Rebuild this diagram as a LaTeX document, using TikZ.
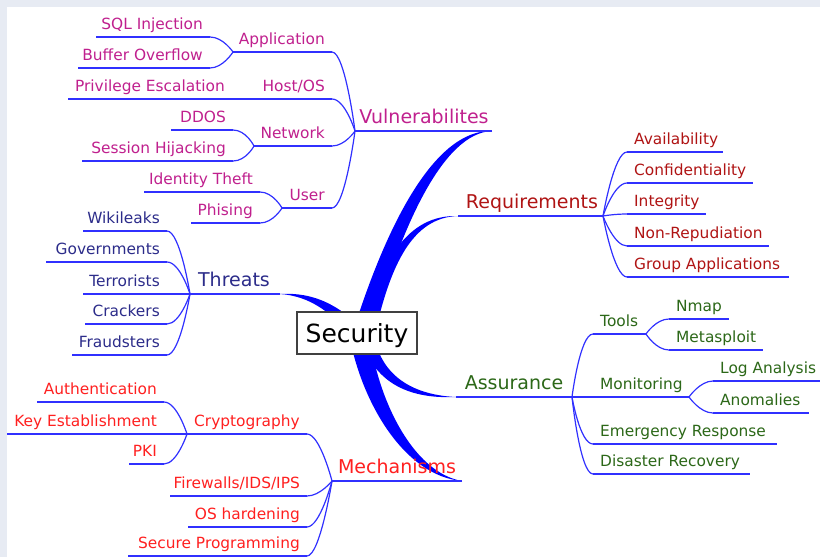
\documentclass[tikz,border=0pt]{standalone}
\usepackage{fontspec}
\setmainfont{DejaVu Sans}
\usetikzlibrary{calc}

\definecolor{vulcol}{RGB}{192,32,142}
\definecolor{thrcol}{RGB}{44,44,138}
\definecolor{reqcol}{RGB}{176,20,20}
\definecolor{asscol}{RGB}{44,104,24}
\definecolor{mechcol}{RGB}{255,32,32}
\definecolor{linecol}{RGB}{48,48,255}
\definecolor{bandcol}{RGB}{0,0,255}
\definecolor{framecol}{RGB}{231,235,243}

\pgfdeclarelayer{bg}
\pgfsetlayers{bg,main}

\tikzset{
  edge/.style={draw=linecol, line width=1.2pt},
  band/.style={fill=bandcol},
  leaf/.style={inner sep=0pt, font=\fontsize{15.4}{18}\selectfont},
  topic/.style={inner sep=0pt, font=\fontsize{19}{22}\selectfont},
  hubbox/.style={draw=black!75, line width=1.2pt, fill=white, inner sep=0pt,
    minimum width=120pt, minimum height=42pt, text height=18.5pt, text depth=0pt,
    font=\fontsize{25}{30}\selectfont},
}

% item left of its parent: underline from l to r at height y, text flush right
\newcommand\lefttopic[6]{%
  \coordinate (#1-l) at (#4,#6);
  \coordinate (#1-r) at (#5,#6);
  \node[leaf, text=#3, anchor=base east] (#1) at (#5-7,#6-7.5) {#2};
  \draw[edge] (#1-l) -- (#1-r);}
% item right of its parent: text flush left
\newcommand\righttopic[6]{%
  \coordinate (#1-l) at (#4,#6);
  \coordinate (#1-r) at (#5,#6);
  \node[leaf, text=#3, anchor=base west] (#1) at (#4+7,#6-7.5) {#2};
  \draw[edge] (#1-l) -- (#1-r);}
% main branch: underline from l to r, text centred at x
\newcommand\maintopic[7]{%
  \coordinate (#1-l) at (#4,#6);
  \coordinate (#1-r) at (#5,#6);
  \node[topic, text=#3, anchor=base] (#1) at (#7,#6-7.5) {#2};
  \draw[edge] (#1-l) -- (#1-r);}
% connectors: child on the left of its parent / parent on the left of its child
\newcommand\joinleft[2]{\draw[edge] (#1-r) .. controls +(13,0) and +(0,0) .. (#2-l);}
\newcommand\joinright[2]{\draw[edge] (#1-r) .. controls +(0,0) and +(-13,0) .. (#2-l);}
% tapered band along a cubic curve, widths given at the first three points
\newcommand\branchband[7]{%
  \fill[band] ($(#1)!#5!90:(#2)$) .. controls ($(#2)!#6!90:(#3)$) and ($(#3)!#7!-90:(#2)$) .. (#4)
    .. controls ($(#3)!#7!90:(#2)$) and ($(#2)!#6!-90:(#3)$) .. ($(#1)!#5!-90:(#2)$) -- cycle;}

\begin{document}
\begin{tikzpicture}[x=1pt,y=-1pt]
\useasboundingbox (0,0) rectangle (820,557);

% ---- main branches
\maintopic{vul}{Vulnerabilites}{vulcol}{355}{492}{131}{424}
\maintopic{thr}{Threats}{thrcol}{190}{280}{294}{234}
\maintopic{mech}{Mechanisms}{mechcol}{332}{462}{481}{397}
\maintopic{req}{Requirements}{reqcol}{458}{603}{216}{532}
\maintopic{ass}{Assurance}{asscol}{456}{572}{397}{514}

% ---- vulnerabilities
\lefttopic{app}{Application}{vulcol}{233}{332}{52}
\lefttopic{sql}{SQL Injection}{vulcol}{96}{210}{37}
\lefttopic{buf}{Buffer Overflow}{vulcol}{78}{210}{68}
\lefttopic{host}{Host/OS}{vulcol}{254}{332}{99}
\lefttopic{priv}{Privilege Escalation}{vulcol}{68}{232}{99}
\lefttopic{net}{Network}{vulcol}{254}{332}{146}
\lefttopic{ddos}{DDOS}{vulcol}{171}{233}{130}
\lefttopic{sess}{Session Hijacking}{vulcol}{82}{233}{161}
\lefttopic{user}{User}{vulcol}{282}{332}{208}
\lefttopic{ident}{Identity Theft}{vulcol}{144}{260}{192}
\lefttopic{phis}{Phising}{vulcol}{191}{260}{223}
\joinleft{sql}{app} \joinleft{buf}{app}
\joinleft{priv}{host}
\joinleft{ddos}{net} \joinleft{sess}{net}
\joinleft{ident}{user} \joinleft{phis}{user}
\joinleft{app}{vul} \joinleft{host}{vul} \joinleft{net}{vul} \joinleft{user}{vul}

% ---- threats
\lefttopic{wiki}{Wikileaks}{thrcol}{83}{167}{231}
\lefttopic{gov}{Governments}{thrcol}{46}{167}{262}
\lefttopic{terr}{Terrorists}{thrcol}{83}{167}{294}
\lefttopic{crack}{Crackers}{thrcol}{85}{167}{324}
\lefttopic{fraud}{Fraudsters}{thrcol}{72}{167}{355}
\joinleft{wiki}{thr} \joinleft{gov}{thr} \joinleft{terr}{thr}
\joinleft{crack}{thr} \joinleft{fraud}{thr}

% ---- mechanisms
\lefttopic{crypto}{Cryptography}{mechcol}{187}{307}{434}
\lefttopic{auth}{Authentication}{mechcol}{37}{164}{402}
\lefttopic{key}{Key Establishment}{mechcol}{7}{164}{434}
\lefttopic{pki}{PKI}{mechcol}{129}{164}{464}
\lefttopic{fw}{Firewalls/IDS/IPS}{mechcol}{170}{307}{496}
\lefttopic{osh}{OS hardening}{mechcol}{188}{307}{527}
\lefttopic{secp}{Secure Programming}{mechcol}{128}{307}{556}
\joinleft{auth}{crypto} \joinleft{key}{crypto} \joinleft{pki}{crypto}
\joinleft{crypto}{mech} \joinleft{fw}{mech} \joinleft{osh}{mech} \joinleft{secp}{mech}

% ---- requirements
\righttopic{avail}{Availability}{reqcol}{627}{723}{152}
\righttopic{conf}{Confidentiality}{reqcol}{627}{753}{183}
\righttopic{integ}{Integrity}{reqcol}{627}{706}{214}
\righttopic{nonrep}{Non-Repudiation}{reqcol}{627}{769}{246}
\righttopic{group}{Group Applications}{reqcol}{627}{789}{277}
\joinright{req}{avail} \joinright{req}{conf} \joinright{req}{integ}
\joinright{req}{nonrep} \joinright{req}{group}

% ---- assurance
\righttopic{tools}{Tools}{asscol}{593}{646}{334}
\righttopic{nmap}{Nmap}{asscol}{669}{729}{319}
\righttopic{meta}{Metasploit}{asscol}{669}{763}{350}
\righttopic{mon}{Monitoring}{asscol}{593}{689}{397}
\righttopic{log}{Log Analysis}{asscol}{713}{820}{381}
\righttopic{anom}{Anomalies}{asscol}{713}{809}{413}
\righttopic{emerg}{Emergency Response}{asscol}{593}{777}{444}
\righttopic{disas}{Disaster Recovery}{asscol}{593}{750}{474}
\joinright{ass}{tools} \joinright{ass}{mon} \joinright{ass}{emerg} \joinright{ass}{disas}
\joinright{tools}{nmap} \joinright{tools}{meta}
\joinright{mon}{log} \joinright{mon}{anom}

% ---- central topic
\node[hubbox] (root) at (357,333) {Security};

% ---- frame and thick branches underneath everything
\begin{pgfonlayer}{bg}
  \fill[framecol] (0,0) rectangle (820,557);
  \fill[white] (7,7) rectangle (820,557);
  \coordinate (vb0) at (362,333); \coordinate (vb1) at (395,222); \coordinate (vb2) at (440,131);
  \branchband{vb0}{vb1}{vb2}{vul-r}{9pt}{7pt}{4pt}
  \coordinate (rb0) at (368,333); \coordinate (rb1) at (386,262); \coordinate (rb2) at (410,216);
  \branchband{rb0}{rb1}{rb2}{req-l}{7pt}{5pt}{3pt}
  \coordinate (tb0) at (352,327); \coordinate (tb1) at (333,309); \coordinate (tb2) at (312,294);
  \branchband{tb0}{tb1}{tb2}{thr-r}{6pt}{5pt}{2.5pt}
  \coordinate (ab0) at (368,340); \coordinate (ab1) at (378,375); \coordinate (ab2) at (405,397);
  \branchband{ab0}{ab1}{ab2}{ass-l}{7pt}{5pt}{3pt}
  \coordinate (mb0) at (360,338); \coordinate (mb1) at (370,400); \coordinate (mb2) at (408,474);
  \branchband{mb0}{mb1}{mb2}{mech-r}{10pt}{8pt}{4pt}
\end{pgfonlayer}
\end{tikzpicture}
\end{document}
